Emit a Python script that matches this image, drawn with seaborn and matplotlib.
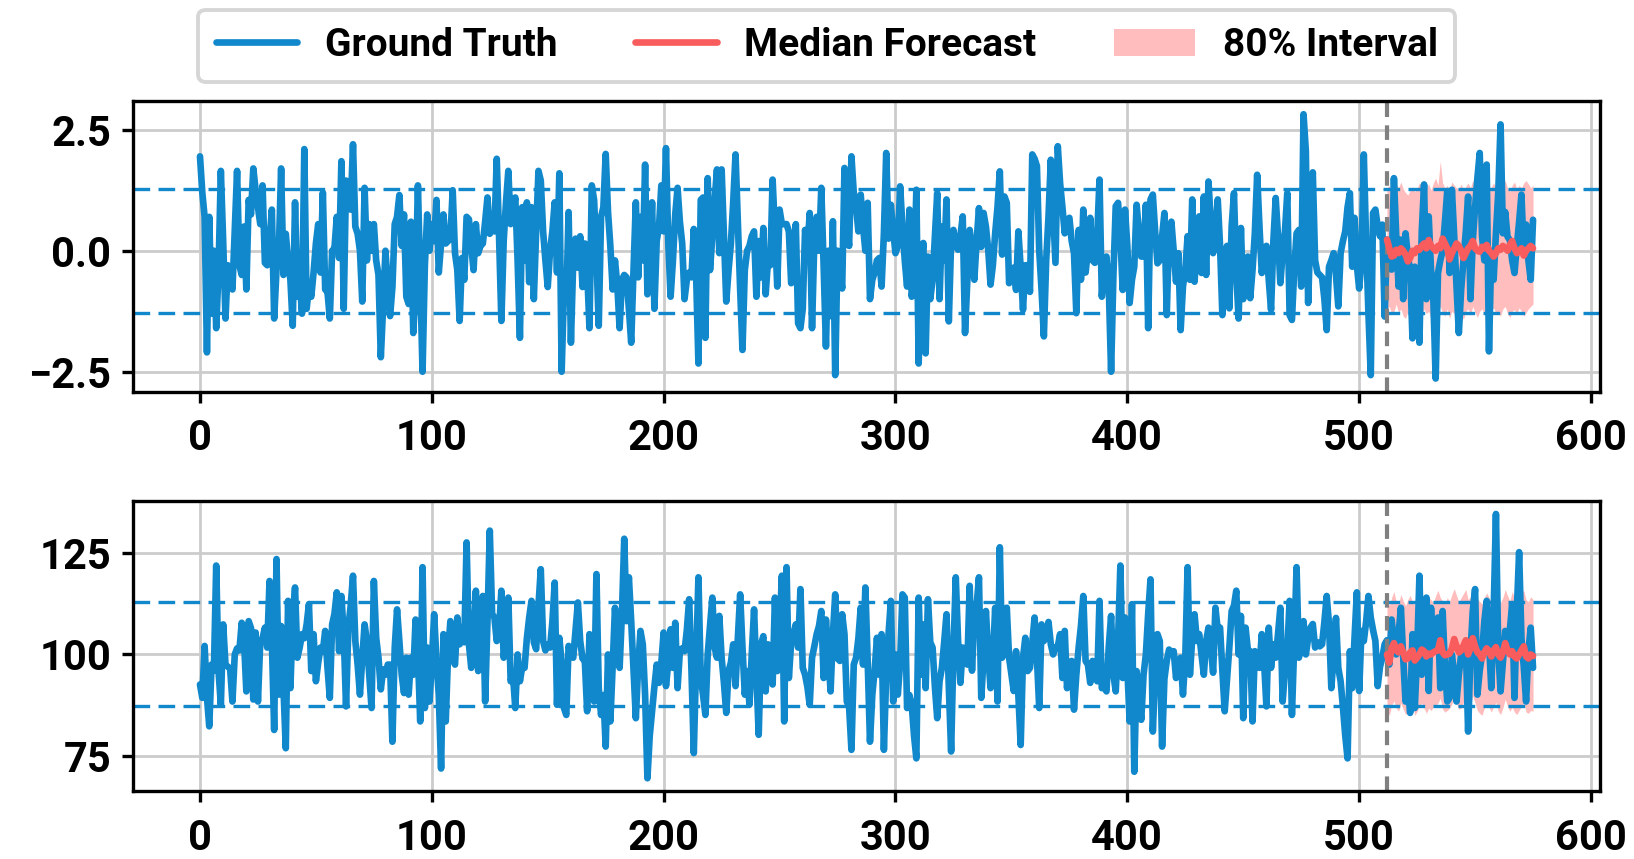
import numpy as np
import pandas as pd
import matplotlib
matplotlib.use("Agg")
import matplotlib.pyplot as plt
from matplotlib.lines import Line2D
from matplotlib.patches import Patch
import seaborn as sns

# ---- series A (standardised signal) ----
gt_a = [
    1.95, 1.20, 0.70, -2.10, 0.70, -1.30, 0.00, -1.60, -0.40, 1.65,
    0.20, -1.40, -0.30, -0.55, -0.80, 0.40, 1.65, -0.30, -0.50, 0.50,
    -0.80, 1.05, 0.75, 1.70, 1.25, 0.90, 0.55, 1.35, -0.25, -0.30,
    0.20, 0.85, -1.40, -0.40, 0.00, 1.70, -0.50, 0.35, -0.20, -0.60,
    -1.55, 1.00, -0.95, -0.60, -1.30, 2.10, -1.20, -0.75, -0.95, -0.45,
    0.15, 0.55, -0.45, 1.20, -0.80, -0.85, -1.40, 0.00, 0.05, 0.70,
    -0.15, 1.85, -1.20, 1.45, 1.40, 0.85, 2.20, 0.50, 0.35, 0.00,
    -1.05, 1.30, -0.20, 0.55, 0.00, 0.55, -0.20, -0.50, -2.20, -1.15,
    0.00, -0.75, -1.35, -0.75, 0.55, 0.70, 1.15, 0.10, 0.75, -0.95,
    -1.10, 0.60, -1.70, -0.75, 1.35, -0.60, -2.50, -0.30, 0.75, 0.00,
    0.55, 0.20, 1.05, -0.45, 0.15, 0.75, 0.15, 0.20, 0.25, 1.25,
    -0.05, -0.40, -1.45, -0.15, -0.60, 0.70, 0.65, 0.10, -0.40, 0.55,
    -0.05, 0.10, 0.15, 0.60, 1.10, 0.35, 0.75, 0.40, 1.90, 0.30,
    -1.45, 0.20, 1.00, 1.65, 0.55, 0.80, 1.10, -0.20, -1.80, 0.90,
    -0.20, 1.00, -0.65, 0.90, -1.00, 0.40, 1.65, 1.45, 0.40, -0.20,
    -0.75, 0.00, 0.40, 1.00, -0.45, 1.60, -2.50, -0.80, -1.05, 0.80,
    -1.90, -0.20, 0.25, -0.35, 0.30, -0.75, 0.15, -0.40, -1.60, 1.35,
    1.05, -0.10, -1.55, 0.70, 0.90, 2.00, 0.80, 0.10, -0.80, -0.20,
    -0.70, -1.60, -0.60, -0.50, -0.55, -1.20, -1.90, -0.40, 1.00, -0.55,
    0.70, -0.20, 1.78, -0.90, -0.20, 1.00, -1.20, 0.20, 0.50, 1.35,
    0.40, 2.12, 0.15, -0.95, -0.20, 0.75, 1.30, 0.60, 0.15, -1.00,
    -0.60, -0.45, -0.55, 0.45, -0.50, -2.33, 1.05, 1.10, -1.80, 1.50,
    -0.40, 0.30, 1.05, 1.68, -0.05, 1.68, 0.30, -1.05, -0.40, 0.15,
    1.00, 1.99, 0.60, -0.80, -2.05, -0.40, 0.00, 0.10, 0.30, 0.40,
    -0.95, 0.20, -0.55, 0.47, -0.90, -0.20, -0.30, 1.47, 0.40, -0.74,
    0.85, 0.55, 0.55, 0.55, 0.40, -0.67, -0.50, 0.55, -1.50, -1.60,
    -1.20, 0.43, 0.00, 0.78, -1.60, 0.20, 0.70, 0.00, 1.30, -0.30,
    -1.98, 0.00, -1.35, 0.61, -2.57, 0.00, -0.30, -0.78, 1.71, 0.50,
    0.10, 1.95, 1.20, 0.90, 0.40, 1.16, 0.50, 0.00, 0.99, -1.00,
    -0.60, -0.45, -0.20, -0.15, -0.74, 0.36, 2.02, 0.25, 0.95, 0.40,
    -0.05, 0.10, 1.33, 0.50, -0.20, -0.74, 0.85, -0.95, -0.60, 1.26,
    -2.33, -0.40, 0.16, -2.12, -0.12, -1.00, -0.60, 0.30, 1.19, -1.00,
    0.50, -0.20, 1.06, -1.46, 0.20, 0.43, 0.10, 0.02, 0.30, 0.71,
    -1.70, -0.60, 0.43, 0.00, -0.60, 0.20, 0.88, 0.08, 0.78, 0.50,
    0.02, -0.70, -0.30, 0.36, 0.90, 1.64, -0.08, 1.12, 0.99, -0.67,
    -0.50, -0.35, -0.81, 0.40, -0.35, -1.22, -0.30, -0.30, -0.85, 1.99,
    1.90, 1.75, 0.00, -0.80, -1.77, -0.20, 0.70, 1.88, 0.80, -0.25,
    2.16, 1.40, 0.90, 0.36, 0.60, 0.68, 0.20, -0.05, -1.29, 0.43,
    -0.60, 0.85, -0.45, 0.00, 0.68, -0.20, -0.25, 0.30, 1.47, -0.95,
    -0.40, -0.12, -0.74, -2.50, -0.50, 0.92, 0.99, 0.30, -0.81, 0.85,
    0.10, -1.08, -0.60, -0.33, 0.95, 0.40, -0.12, -0.12, 0.95, -1.60,
    1.06, 1.16, 0.40, -0.26, -0.20, 0.30, 0.78, -1.33, 0.36, 0.60,
    0.00, -0.64, -0.05, -1.64, -0.74, -0.40, 0.30, -0.60, 1.06, -0.64,
    0.20, 0.71, -0.46, 1.12, -0.50, 1.43, 0.60, -0.05, 0.40, 1.06,
    0.10, -1.33, -0.20, 0.10, -1.19, 0.50, 1.19, -0.46, -1.40, 0.47,
    -1.00, -0.60, -0.12, -0.98, -0.40, 0.36, 1.57, 0.50, -0.46, -0.10,
    0.10, -0.60, -1.22, 0.20, 1.09, 0.30, -0.67, -0.05, 0.40, 1.19,
    -1.33, -1.43, -0.40, 0.36, 0.43, -0.74, 2.82, 2.06, -1.08, 0.50,
    1.62, -0.20, -0.45, -0.50, -0.55, -1.00, -1.64, -0.33, -0.20, -0.05,
    -0.50, -1.15, -0.05, 0.20, 0.40, 0.90, 1.19, -0.33, 0.68, -0.30,
    -0.78, -0.20, 1.99, 0.20, -1.29, -2.57, 0.78, 0.85, 0.50, 0.30,
    0.54, -1.36, 0.23, -0.10, -0.39, 1.50, 0.30, -0.74, 0.23, -1.00,
    0.36, -0.10, -0.40, -1.81, -0.33, -0.80, -1.90, 0.40, 1.37, -1.00,
    0.71, -0.40, -1.00, -2.64, -0.46, -0.20, 0.00, 0.60, 1.23, -0.46,
    1.26, 0.30, -0.74, -1.70, -0.80, -0.20, 0.40, 1.12, -1.00, 0.20,
    0.90, 1.50, 2.02, 0.30, -0.20, 1.78, -2.08, 0.00, -0.60, 0.36,
    1.20, 2.61, 0.36, 0.80, 0.29, 0.22, -0.20, -0.46, 0.09, 0.60,
    1.16, -0.05, 0.54, -0.20, -0.60, 0.64,
]
median_a = [
    0.23, 0.05, -0.12, -0.10, 0.02, -0.05, 0.05, 0.00,
    -0.08, -0.22, -0.15, 0.00, -0.05, 0.05, 0.02, 0.10,
    0.15, 0.05, 0.22, 0.10, 0.05, 0.00, 0.10, 0.05,
    0.25, 0.15, 0.05, -0.18, -0.05, 0.05, 0.15, 0.10,
    0.00, -0.15, -0.05, 0.05, 0.10, 0.20, 0.05, 0.00,
    -0.02, 0.08, 0.05, 0.12, 0.00, -0.05, -0.12, -0.05,
    0.05, 0.02, 0.10, 0.05, 0.00, 0.12, 0.20, 0.05,
    -0.05, -0.02, 0.05, -0.10, 0.00, 0.05, 0.10, 0.05,
]
upper_a = [
    1.30, 1.35, 1.20, 1.25, 1.38, 1.30, 1.42, 1.28,
    1.20, 1.15, 1.25, 1.32, 1.22, 1.30, 1.40, 1.35,
    1.45, 1.30, 1.38, 1.25, 1.40, 1.50, 1.35, 1.85,
    1.40, 1.30, 1.35, 1.25, 1.42, 1.35, 1.30, 1.28,
    1.38, 1.25, 1.33, 1.40, 1.30, 1.45, 1.35, 1.20,
    1.30, 1.42, 1.35, 1.28, 1.20, 1.32, 1.40, 1.30,
    1.35, 1.25, 1.38, 1.45, 1.30, 1.22, 1.35, 1.42,
    1.28, 1.35, 1.30, 1.40, 1.45, 1.38, 1.30, 1.35,
]
lower_a = [
    -1.22, -1.15, -1.30, -1.25, -1.10, -1.28, -1.20, -1.35,
    -1.40, -1.25, -1.18, -1.30, -1.22, -1.15, -1.28, -1.35,
    -1.20, -1.30, -1.25, -1.42, -1.30, -1.18, -1.25, -1.15,
    -1.28, -1.35, -1.20, -1.40, -1.25, -1.30, -1.18, -1.22,
    -1.30, -1.42, -1.25, -1.20, -1.33, -1.15, -1.28, -1.38,
    -1.25, -1.20, -1.30, -1.35, -1.40, -1.22, -1.18, -1.30,
    -1.28, -1.35, -1.20, -1.15, -1.30, -1.38, -1.25, -1.22,
    -1.30, -1.18, -1.25, -1.35, -1.28, -1.20, -1.15, -1.10,
]
levels_a = [-1.28, 1.28]

# ---- series B (raw-scale signal) ----
gt_b = [
    92.6, 89.3, 102.1, 89.5, 82.3, 97.5, 96.0, 121.9, 95.9, 87.6,
    107.4, 97.5, 97.0, 96.5, 88.4, 100.0, 101.5, 101.0, 107.8, 103.3,
    90.9, 108.2, 106.5, 88.9, 105.4, 88.4, 103.3, 104.0, 106.6, 101.7,
    118.1, 103.3, 81.4, 123.5, 90.1, 107.0, 91.7, 76.9, 113.2, 91.7,
    109.1, 116.5, 99.2, 101.7, 105.0, 104.0, 107.4, 112.4, 95.9, 105.0,
    93.4, 98.0, 101.7, 100.8, 105.8, 96.7, 89.3, 107.4, 110.0, 115.3,
    100.8, 114.4, 105.0, 87.2, 106.6, 112.0, 119.4, 103.3, 97.5, 90.1,
    99.0, 107.4, 103.3, 95.0, 86.8, 118.1, 104.1, 99.2, 91.4, 96.3,
    95.0, 97.5, 97.5, 78.5, 101.7, 111.1, 103.3, 95.0, 90.5, 99.2,
    90.1, 99.2, 95.0, 108.6, 100.0, 83.5, 121.5, 86.8, 101.7, 88.4,
    98.0, 109.9, 98.4, 90.0, 71.9, 105.0, 83.5, 100.0, 108.2, 99.0,
    97.5, 109.1, 102.5, 106.6, 103.0, 127.6, 102.5, 96.7, 104.0, 115.7,
    95.9, 104.0, 114.4, 88.4, 108.2, 130.5, 110.0, 109.1, 103.3, 106.0,
    115.7, 99.2, 104.0, 114.0, 93.4, 95.0, 86.8, 100.0, 93.4, 97.0,
    96.7, 104.0, 109.1, 113.2, 103.0, 101.3, 112.0, 121.0, 103.3, 101.0,
    102.5, 101.7, 108.0, 117.7, 87.6, 104.1, 98.0, 86.8, 85.1, 102.1,
    100.0, 99.2, 106.0, 112.8, 103.3, 99.0, 98.4, 86.0, 105.0, 97.0,
    88.4, 119.8, 91.7, 85.1, 90.0, 77.3, 100.0, 83.5, 97.0, 111.5,
    103.0, 96.7, 110.0, 128.5, 108.2, 119.0, 108.2, 96.0, 84.3, 97.0,
    105.8, 102.5, 90.0, 69.5, 80.0, 86.0, 92.0, 97.5, 93.0, 98.0,
    105.4, 92.2, 98.0, 106.2, 96.7, 107.8, 91.7, 100.8, 101.5, 100.8,
    106.0, 113.6, 96.0, 75.7, 98.0, 119.0, 94.2, 90.0, 85.1, 100.0,
    107.0, 114.0, 101.7, 99.2, 109.5, 99.2, 93.0, 85.6, 95.9, 98.0,
    102.5, 92.2, 104.0, 114.8, 101.7, 90.1, 95.9, 87.6, 100.0, 111.1,
    95.0, 80.2, 102.5, 104.5, 90.9, 102.5, 97.0, 92.6, 114.0, 95.9,
    106.0, 119.4, 83.5, 121.5, 94.2, 103.0, 105.0, 107.4, 101.7, 116.1,
    96.7, 95.0, 92.0, 87.6, 99.2, 102.0, 105.0, 107.0, 110.7, 94.2,
    108.6, 100.0, 90.9, 105.0, 114.8, 99.0, 98.4, 109.9, 105.0, 88.4,
    87.0, 76.5, 97.5, 99.2, 104.0, 111.5, 97.5, 116.5, 98.4, 78.5,
    90.1, 96.0, 104.1, 95.0, 105.0, 76.5, 95.0, 105.0, 113.2, 88.4,
    100.0, 90.1, 98.0, 114.8, 114.0, 86.8, 90.0, 87.6, 80.0, 74.4,
    114.0, 95.0, 107.4, 91.7, 113.6, 103.0, 101.7, 92.0, 84.3, 93.4,
    96.7, 103.0, 109.9, 92.0, 76.1, 100.8, 119.0, 103.3, 93.0, 101.7,
    99.0, 97.5, 116.9, 96.0, 109.1, 112.0, 119.0, 89.3, 99.2, 110.7,
    100.0, 91.7, 98.4, 111.5, 88.4, 126.4, 99.2, 104.0, 111.5, 99.2,
    95.0, 91.0, 100.8, 90.0, 77.7, 99.2, 104.1, 95.9, 96.7, 103.0,
    109.1, 99.2, 86.8, 107.4, 103.3, 105.0, 108.0, 102.5, 100.0, 101.7,
    102.0, 105.0, 94.2, 105.8, 91.7, 98.0, 98.4, 86.4, 95.0, 101.7,
    107.0, 114.4, 98.4, 97.5, 93.0, 98.4, 97.0, 93.4, 113.2, 91.7,
    92.0, 90.9, 102.0, 109.5, 95.0, 90.9, 103.3, 121.9, 94.2, 109.1,
    96.7, 83.5, 112.4, 71.1, 95.9, 90.0, 83.9, 95.0, 100.0, 110.0,
    118.5, 81.0, 95.0, 105.0, 103.3, 77.3, 94.0, 98.4, 101.2, 100.5,
    100.8, 94.2, 97.0, 99.2, 90.1, 99.2, 121.5, 95.0, 104.0, 109.9,
    103.3, 105.0, 100.0, 95.0, 103.3, 106.6, 102.0, 95.5, 111.5, 106.0,
    106.6, 96.0, 86.0, 94.0, 101.7, 110.7, 112.0, 115.7, 100.0, 109.5,
    84.3, 106.6, 101.0, 100.8, 83.5, 100.8, 98.0, 96.7, 105.0, 98.0,
    87.2, 106.6, 96.7, 102.5, 99.2, 105.0, 111.5, 88.4, 96.0, 100.8,
    113.2, 85.1, 102.5, 121.5, 99.2, 103.0, 108.2, 100.0, 104.0, 106.6,
    107.5, 101.7, 103.0, 102.0, 102.5, 108.0, 114.4, 107.4, 91.7, 100.0,
    109.0, 96.7, 93.4, 87.0, 80.0, 74.4, 100.8, 91.7, 104.0, 115.3,
    91.0, 105.8, 103.3, 108.0, 114.4, 109.1, 106.0, 103.3, 92.2, 97.0,
    99.2, 102.5, 103.5, 97.5, 108.6, 103.0, 100.0, 105.0, 111.5, 99.2,
    88.4, 92.0, 85.6, 105.0, 86.8, 100.0, 119.4, 95.0, 103.0, 114.0,
    91.0, 111.5, 101.0, 101.7, 109.1, 91.7, 110.7, 97.0, 88.4, 89.3,
    100.0, 95.0, 88.4, 95.0, 100.0, 101.0, 102.5, 81.0, 100.0, 110.7,
    116.1, 90.1, 96.0, 100.0, 108.2, 113.2, 103.0, 91.7, 110.0, 134.6,
    100.8, 90.9, 98.0, 105.8, 101.7, 106.0, 112.4, 89.3, 110.7, 125.2,
    104.0, 97.0, 88.4, 100.8, 106.6, 96.7,
]
median_b = [
    100.0, 98.0, 101.5, 102.8, 101.0, 100.5, 102.0, 100.5,
    98.8, 99.0, 100.5, 101.0, 98.5, 99.2, 100.0, 101.2,
    100.8, 99.5, 100.2, 100.0, 100.5, 100.8, 101.0, 103.5,
    100.5, 99.8, 100.0, 100.2, 101.5, 103.8, 102.0, 100.5,
    101.0, 102.2, 103.5, 100.0, 101.5, 104.0, 102.0, 100.5,
    100.0, 99.0, 100.5, 101.5, 100.8, 99.5, 101.0, 101.8,
    100.0, 99.2, 100.5, 102.8, 101.0, 100.0, 100.8, 99.5,
    99.0, 100.0, 101.0, 102.0, 99.5, 99.0, 100.0, 99.6,
]
upper_b = [
    113.5, 112.0, 114.0, 115.5, 113.0, 112.5, 114.8, 113.2,
    112.0, 113.5, 114.5, 113.0, 112.2, 113.8, 115.0, 114.2,
    113.0, 112.5, 114.0, 113.5, 112.8, 114.5, 115.8, 114.0,
    113.2, 112.5, 114.0, 113.0, 114.8, 116.2, 114.5, 113.0,
    114.0, 115.0, 116.0, 113.5, 114.2, 116.5, 115.0, 113.8,
    113.0, 112.5, 114.0, 115.2, 114.0, 113.0, 114.5, 115.5,
    113.5, 112.8, 114.0, 116.0, 114.5, 113.2, 115.5, 114.0,
    113.0, 114.0, 115.0, 115.8, 113.5, 113.0, 114.2, 113.5,
]
lower_b = [
    86.5, 85.0, 87.5, 88.5, 86.8, 86.0, 88.0, 86.5,
    85.2, 85.8, 87.0, 87.8, 85.0, 86.0, 87.2, 88.0,
    86.8, 85.5, 86.8, 86.2, 87.0, 87.5, 88.0, 89.2,
    86.5, 85.8, 86.2, 86.8, 87.8, 89.5, 88.0, 86.5,
    86.8, 88.2, 89.5, 86.0, 87.5, 89.8, 88.0, 86.2,
    85.5, 85.0, 86.8, 87.8, 87.0, 85.8, 87.2, 88.2,
    86.0, 85.2, 86.8, 89.0, 87.2, 86.0, 87.0, 85.8,
    85.2, 86.2, 87.2, 88.0, 85.8, 85.5, 86.2, 86.0,
]
levels_b = [87.2, 112.8]

FORECAST_START = 512
legend_labels = ["Ground Truth", "Median Forecast", "80% Interval"]
x_ticks = [0, 100, 200, 300, 400, 500, 600]

BLUE = "#1188cc"
RED = "#f85c5c"
BAND = "#ffbdbd"

sns.set_theme(style="whitegrid")
plt.rcParams["font.family"] = ["Roboto", "DejaVu Sans"]
plt.rcParams["font.weight"] = "bold"
plt.rcParams["text.color"] = "black"
plt.rcParams["axes.edgecolor"] = "black"
plt.rcParams["axes.linewidth"] = 1.2
plt.rcParams["grid.color"] = "#cccccc"
plt.rcParams["grid.linewidth"] = 1.0

fig, axes = plt.subplots(2, 1, figsize=(8.17, 4.295), dpi=200)
fig.subplots_adjust(left=0.0816, right=0.979, top=0.8824, bottom=0.0786, hspace=0.375)

panels = [
    (gt_a, median_a, lower_a, upper_a, levels_a),
    (gt_b, median_b, lower_b, upper_b, levels_b),
]

for ax, (gt, med, lo, hi, levels) in zip(axes, panels):
    hist = pd.DataFrame({"t": np.arange(len(gt)), "value": gt})
    fc = pd.DataFrame({
        "t": np.arange(FORECAST_START, FORECAST_START + len(med)),
        "median": med, "lo": lo, "hi": hi,
    })
    ax.fill_between(fc["t"], fc["lo"], fc["hi"], color=BAND, lw=0, zorder=1)
    for lvl in levels:
        ax.axhline(lvl, color=BLUE, lw=1.2, ls=(0, (5, 2.5)), zorder=1.5)
    sns.lineplot(data=hist, x="t", y="value", ax=ax, color=BLUE, lw=2.4, zorder=2)
    sns.lineplot(data=fc, x="t", y="median", ax=ax, color=RED, lw=2.4, zorder=3)
    ax.axvline(FORECAST_START, color="gray", lw=1.5, ls=(0, (3.5, 2)), zorder=2.5)
    ax.set_xlabel("")
    ax.set_ylabel("")
    ax.set_xticks(x_ticks)
    ax.tick_params(axis="both", labelsize=15, length=4, width=1.2, color="black",
                   labelcolor="black", bottom=True, left=True)
    ax.tick_params(axis="x", pad=5.5)
    ax.tick_params(axis="y", pad=4)
    for sp in ax.spines.values():
        sp.set_color("black")
        sp.set_linewidth(1.2)

axes[0].set_yticks([-2.5, 0.0, 2.5])
axes[1].set_yticks([75, 100, 125])
for ax in axes:
    for lab in ax.get_xticklabels() + ax.get_yticklabels():
        lab.set_fontweight("bold")
        lab.set_color("black")

handles = [
    Line2D([0], [0], color=BLUE, lw=2.4),
    Line2D([0], [0], color=RED, lw=2.4),
    Patch(facecolor=BAND, edgecolor="none"),
]
leg = fig.legend(handles, legend_labels, loc="center", bbox_to_anchor=(0.506, 0.947),
                 ncol=3, frameon=True, fancybox=True,
                 handlelength=2.1, handletextpad=0.7, columnspacing=2.0,
                 borderpad=0.45, prop={"weight": "bold", "size": 14})
leg.get_frame().set_edgecolor("#cccccc")
leg.get_frame().set_linewidth(1.4)
for txt in leg.get_texts():
    txt.set_color("black")

fig.savefig("out.png", dpi=200)
